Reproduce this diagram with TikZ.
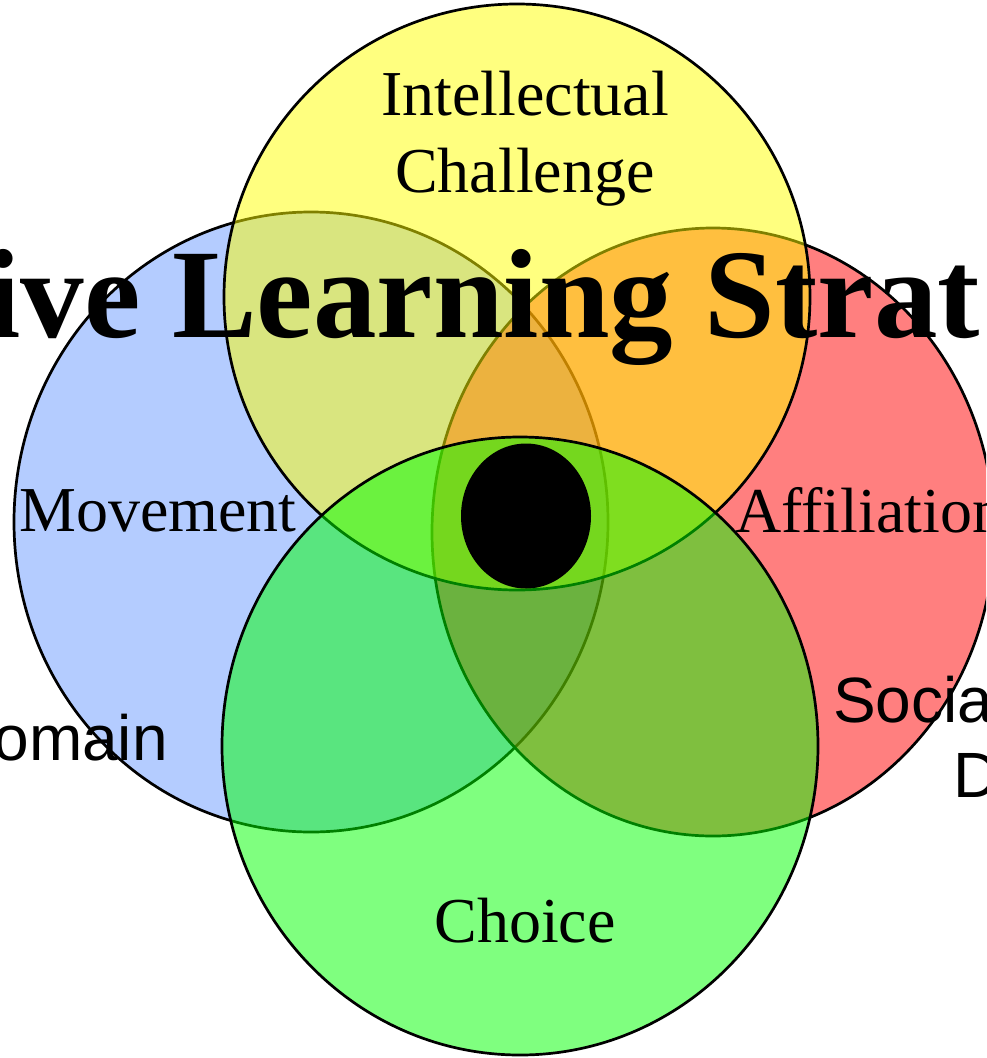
\documentclass[tikz,border=0pt]{standalone}
\usepackage{fontspec}
\setmainfont{Liberation Serif}
\setsansfont{Liberation Sans}
\usetikzlibrary{shapes.geometric}

\definecolor{ringblue}{RGB}{105,153,255}
\definecolor{ringred}{RGB}{255,0,0}
\definecolor{ringyellow}{RGB}{255,255,0}
\definecolor{ringgreen}{RGB}{0,255,0}

\begin{document}
\begin{tikzpicture}[x=1pt, y=-1pt,
  ring/.style={ellipse, draw, line width=2.7pt, fill opacity=0.5, inner sep=0pt},
  area/.style={font=\fontsize{64}{77}\selectfont, align=center, inner sep=0pt},
  side/.style={font=\sffamily\fontsize{64}{77}\selectfont, inner sep=0pt},
  title/.style={font=\bfseries\fontsize{127}{140}\selectfont, inner sep=0pt}
]
  \useasboundingbox (0,0) rectangle (986,1058);
  \clip (0,0) rectangle (986,1058);

  % the four rings, back to front
  \node[ring, fill=ringblue, minimum width=594pt, minimum height=620pt] (movement) at (311,522) {};
  \node[ring, fill=ringred, minimum width=562pt, minimum height=608pt] (affiliation) at (713,532) {};
  \node[ring, fill=ringyellow, minimum width=586pt, minimum height=586pt] (challenge) at (517,297) {};
  \node[ring, fill=ringgreen, minimum width=596pt, minimum height=618pt] (choice) at (520,746) {};

  % centre
  \node[ellipse, fill=black, minimum width=130pt, minimum height=145pt] (core) at (526,516) {};

  % labels
  \node[area, anchor=base] (challenge-label) at (525,192) {Intellectual\\Challenge};
  \node[area, anchor=base] (movement-label) at (158,531) {Movement};
  \node[area, anchor=base west] (affiliation-label) at (735,532) {Affiliation};
  \node[area, anchor=base] (choice-label) at (525,942) {Choice};

  \node[side, anchor=base east] (domain-left) at (168,760) {omain};
  \node[side, anchor=base west] (social) at (833,722) {Socia};
  \node[side, anchor=base west] (domain-right) at (953,797) {D};

  \node[title, anchor=base west] (heading) at (-15,337) {ive Learning Strat};
\end{tikzpicture}
\end{document}
